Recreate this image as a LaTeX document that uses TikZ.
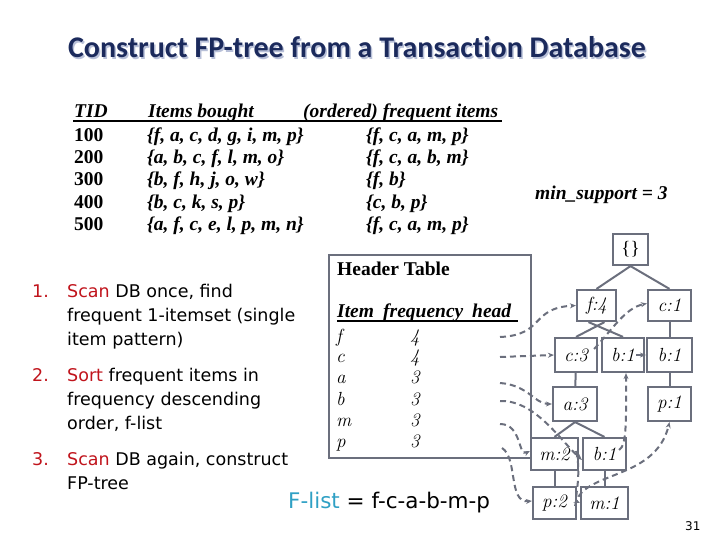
\documentclass[tikz,border=0pt]{standalone}
\usepackage{fontspec}
\usetikzlibrary{arrows.meta}
\newfontfamily\tnr{Liberation Serif}
\newfontfamily\ttlfont[RawFeature={-liga,-clig,-dlig}]{Carlito}
\newfontfamily\tahoma{DejaVu Sans}
\definecolor{navy}{HTML}{1B2A5C}
\definecolor{shad}{HTML}{B8C0D8}
\definecolor{edge}{HTML}{6B6F7D}
\definecolor{scanred}{HTML}{C0141C}
\definecolor{flist}{HTML}{2FA0C4}
\begin{document}
\begin{tikzpicture}[x=1pt,y=-1pt,
  tn/.style={draw=edge, line width=2.2pt, inner sep=0pt, font=\fontsize{19}{19}\selectfont\itshape},
  te/.style={draw=edge, line width=2pt},
  ptr/.style={draw=edge, line width=2pt, dash pattern=on 6pt off 4pt, -{Stealth[length=6pt,width=5pt]}},
  tb/.style={anchor=base west, inner sep=0pt, font=\tnr\bfseries\fontsize{19.5}{19.5}\selectfont},
  tbi/.style={anchor=base west, inner sep=0pt, font=\tnr\bfseries\itshape\fontsize{19.5}{19.5}\selectfont},
  hti/.style={anchor=base west, inner sep=0pt, font=\fontsize{19}{19}\selectfont\itshape},
  lst/.style={anchor=base west, inner sep=0pt, font=\tahoma\fontsize{17.5}{17.5}\selectfont},
]
\useasboundingbox (0,0) rectangle (720,540);
% title
\node[anchor=base, inner sep=0pt, text=shad, font=\ttlfont\bfseries\fontsize{30}{30}\selectfont] at (358.5,59.5) {Construct FP-tree from a Transaction Database};
\node[anchor=base, inner sep=0pt, text=navy, font=\ttlfont\bfseries\fontsize{30}{30}\selectfont] (title) at (357,58) {Construct FP-tree from a Transaction Database};
% table
\node[tbi] (h1) at (74,118) {TID};
\node[tbi] (h2) at (148,118) {Items bought};
\node[tbi] (h3) at (303,118) {(ordered) frequent items};
\draw[line width=1.6pt] (73,121) -- (502,121);
\foreach \t/\a/\b/\y in {100/{\{f, a, c, d, g, i, m, p\}}/{\{f, c, a, m, p\}}/142,
                         200/{\{a, b, c, f, l, m, o\}}/{\{f, c, a, b, m\}}/164,
                         300/{\{b, f, h, j, o, w\}}/{\{f, b\}}/186,
                         400/{\{b, c, k, s, p\}}/{\{c, b, p\}}/208,
                         500/{\{a, f, c, e, l, p, m, n\}}/{\{f, c, a, m, p\}}/230}{
  \node[tb] (t\t) at (74,\y) {\t};
  \node[tbi] (i\t) at (147,\y) {\a};
  \node[tbi] (o\t) at (366,\y) {\b};
}
\node[tbi] (minsup) at (535,200) {min\_support = 3};
% header table
\draw[draw=edge, line width=2.2pt] (329,255) rectangle (531,458);
\node[tb] (ht) at (337,275) {Header Table};
\node[tbi] (hi) at (337,317) {Item};
\node[tbi] (hf) at (383,317) {frequency};
\node[tbi] (hh) at (472,317) {head};
\draw[line width=1.4pt] (337,321) -- (518,321);
\foreach \n/\c/\y in {f/4/342, c/4/362, a/3/383, b/3/405, m/3/426, p/3/447}{
  \node[hti] (hi\n) at (336,\y) {\n};
  \node[hti] (hf\n) at (410,\y) {\c};
}
% tree nodes
\node[tn, minimum width=35pt, minimum height=31pt] (root) at (630.5,249.5) {\tnr\upshape\{\}};
\node[tn, minimum width=39pt, minimum height=31pt] (f4) at (596.5,305.5) {f:4};
\node[tn, minimum width=43pt, minimum height=31pt] (c1) at (669.5,305.5) {c:1};
\node[tn, minimum width=42pt, minimum height=34pt] (c3) at (576,355) {c:3};
\node[tn, minimum width=42pt, minimum height=34pt] (b1m) at (623,355) {b:1};
\node[tn, minimum width=45pt, minimum height=34pt] (b1r) at (669.5,355) {b:1};
\node[tn, minimum width=44pt, minimum height=34pt] (a3) at (575,404) {a:3};
\node[tn, minimum width=43pt, minimum height=34pt] (p1) at (669.5,404) {p:1};
\node[tn, minimum width=47pt, minimum height=32pt] (m2) at (554.5,454) {m:2};
\node[tn, minimum width=43pt, minimum height=32pt] (b1l) at (604.5,454) {b:1};
\node[tn, minimum width=43pt, minimum height=32pt] (p2) at (554.5,503) {p:2};
\node[tn, minimum width=47pt, minimum height=32pt] (m1) at (604.5,503) {m:1};
% tree edges
\draw[te] (root.south) -- (f4.north);
\draw[te] (root.south) -- (c1.north);
\draw[te] ([xshift=8pt]f4.south) -- (c3.north);
\draw[te] ([xshift=-8pt]f4.south) -- (b1m.north);
\draw[te] (c1) -- (b1r);
\draw[te] (c3) -- (a3);
\draw[te] (b1r) -- (p1);
\draw[te] (a3.south) -- (m2.north);
\draw[te] (a3.south) -- (b1l.north);
\draw[te] (m2) -- (p2);
\draw[te] (b1l) -- (m1);
% head pointers
\coordinate (pf) at (500,337);
\coordinate (pc) at (500,357);
\coordinate (pa) at (500,383);
\coordinate (pb) at (500,401);
\coordinate (pm) at (500,424);
\coordinate (pp) at (502,448);
\draw[ptr] (pf) .. controls (545,335) and (530,308) .. (f4.west);
\draw[ptr] (pc) -- (c3.west);
\draw[ptr] (pa) .. controls (528,385) and (535,404) .. (a3.west);
\draw[ptr] (pb) .. controls (535,400) and (560,440) .. ([yshift=-6pt]b1l.west);
\draw[ptr] (pm) .. controls (522,424) and (518,457) .. ([yshift=3pt]m2.west);
\draw[ptr] (pp) .. controls (518,458) and (508,503) .. ([yshift=2pt]p2.west);
% node links
\draw[ptr] ([xshift=-4pt,yshift=6pt]c3.east) .. controls (612,330) and (625,308) .. ([yshift=2pt]c1.west);
\draw[draw=edge, line width=1.8pt, -{Stealth[length=6pt,width=5pt]}] ([xshift=-9pt]b1m.east) -- (b1r.west);
\draw[ptr] ([xshift=-8pt,yshift=4pt]b1l.east) .. controls (627,445) and (626,420) .. ([xshift=3pt]b1m.south);
\draw[ptr] ([xshift=-3pt,yshift=3pt]m2.east) .. controls (582,475) and (574,500) .. (m1.west);
\draw[ptr] ([xshift=-2pt,yshift=-3pt]p2.east) .. controls (580,470) and (655,482) .. (p1.south);
% left list
\node[lst, text=scanred] (n1) at (32,297) {1.};
\node[lst] (l11) at (67,297) {\textcolor{scanred}{Scan} DB once, find};
\node[lst] (l12) at (67,321) {frequent 1-itemset (single};
\node[lst] (l13) at (67,345) {item pattern)};
\node[lst, text=scanred] (n2) at (32,381) {2.};
\node[lst] (l21) at (67,381) {\textcolor{scanred}{Sort} frequent items in};
\node[lst] (l22) at (67,405) {frequency descending};
\node[lst] (l23) at (67,429) {order, f-list};
\node[lst, text=scanred] (n3) at (32,465) {3.};
\node[lst] (l31) at (67,465) {\textcolor{scanred}{Scan} DB again, construct};
\node[lst] (l32) at (67,489) {FP-tree};
% F-list
\node[anchor=base west, inner sep=0pt, font=\tahoma\fontsize{21.5}{21.5}\selectfont] (fl) at (288,508) {\textcolor{flist}{F-list} = f-c-a-b-m-p};
\node[anchor=base west, inner sep=0pt, font=\tahoma\fontsize{12}{12}\selectfont] (pg) at (685,530) {31};
\end{tikzpicture}
\end{document}
